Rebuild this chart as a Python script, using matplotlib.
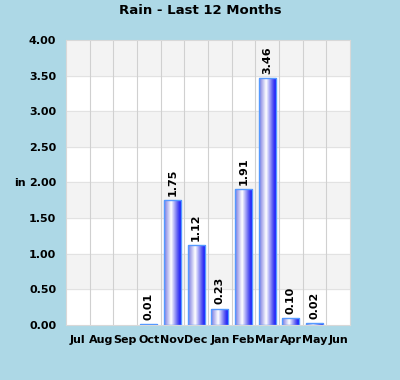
import matplotlib
matplotlib.use('Agg')
import matplotlib.pyplot as plt
from matplotlib.colors import LinearSegmentedColormap
from matplotlib.patches import Rectangle
import numpy as np

months = ['Jul', 'Aug', 'Sep', 'Oct', 'Nov', 'Dec', 'Jan', 'Feb', 'Mar', 'Apr', 'May', 'Jun']
rain = [0, 0, 0, 0.01, 1.75, 1.12, 0.23, 1.91, 3.46, 0.10, 0.02, 0]
labels = ['', '', '', '0.01', '1.75', '1.12', '0.23', '1.91', '3.46', '0.10', '0.02', '']

BG = '#ADD8E6'
fig = plt.figure(figsize=(4, 3.8), dpi=100)
fig.patch.set_facecolor(BG)
ax = fig.add_axes([0.165, 0.145, 0.71, 0.75])
ax.set_facecolor('white')

x = np.arange(len(months))

# alternating bands
for lo in np.arange(0.5, 4, 1.0):
    ax.axhspan(lo, lo + 0.5, color='#F3F3F3', zorder=0)
for yv in np.arange(0.5, 4, 0.5):
    ax.axhline(yv, color='#E2E2E2', lw=0.8, zorder=0.5)
for xv in np.arange(0.5, len(months) - 0.5, 1):
    ax.axvline(xv, color='#D0D0D0', lw=0.8, zorder=0.5)

cmap = LinearSegmentedColormap.from_list('bar', [(0, '#7878E0'), (0.4, '#FFFFFF'), (0.75, '#6060F0'), (1, '#0000FF')])
grad = np.linspace(0, 1, 64).reshape(1, -1)
w = 0.72
for xi, v, lab in zip(x, rain, labels):
    if v <= 0:
        continue
    r = Rectangle((xi - w / 2, 0), w, v, facecolor='none', edgecolor='#5599FF', lw=1.0, zorder=3)
    ax.add_patch(r)
    im = ax.imshow(grad, cmap=cmap, aspect='auto', extent=(xi - w / 2, xi + w / 2, 0, v), zorder=2)
    im.set_clip_path(r)
    ax.text(xi, v + 0.06, lab, rotation=90, ha='center', va='bottom', fontsize=8, fontweight='bold', zorder=4)

ax.set_xlim(-0.5, len(months) - 0.5)
ax.set_ylim(0, 4)
ax.set_xticks(x)
ax.set_xticklabels(months, fontsize=8, fontweight='bold')
ax.set_yticks(np.arange(0, 4.01, 0.5))
ax.set_yticklabels([f'{v:.2f}' for v in np.arange(0, 4.01, 0.5)], fontsize=8, fontweight='bold')
ax.tick_params(length=0)
ax.tick_params(axis='y', pad=7)
ax.tick_params(axis='x', pad=7)
for s in ax.spines.values():
    s.set_color('#D8D8D8')

fig.text(0.065, 1 - 183 / 380, 'in', ha='right', va='center', fontsize=8, fontweight='bold')
fig.text(0.5, 1 - 11 / 380, 'Rain - Last 12 Months', ha='center', va='center', fontsize=9.5, fontweight='bold')

plt.savefig('out.png', dpi=100, facecolor=BG)
plt.close()
